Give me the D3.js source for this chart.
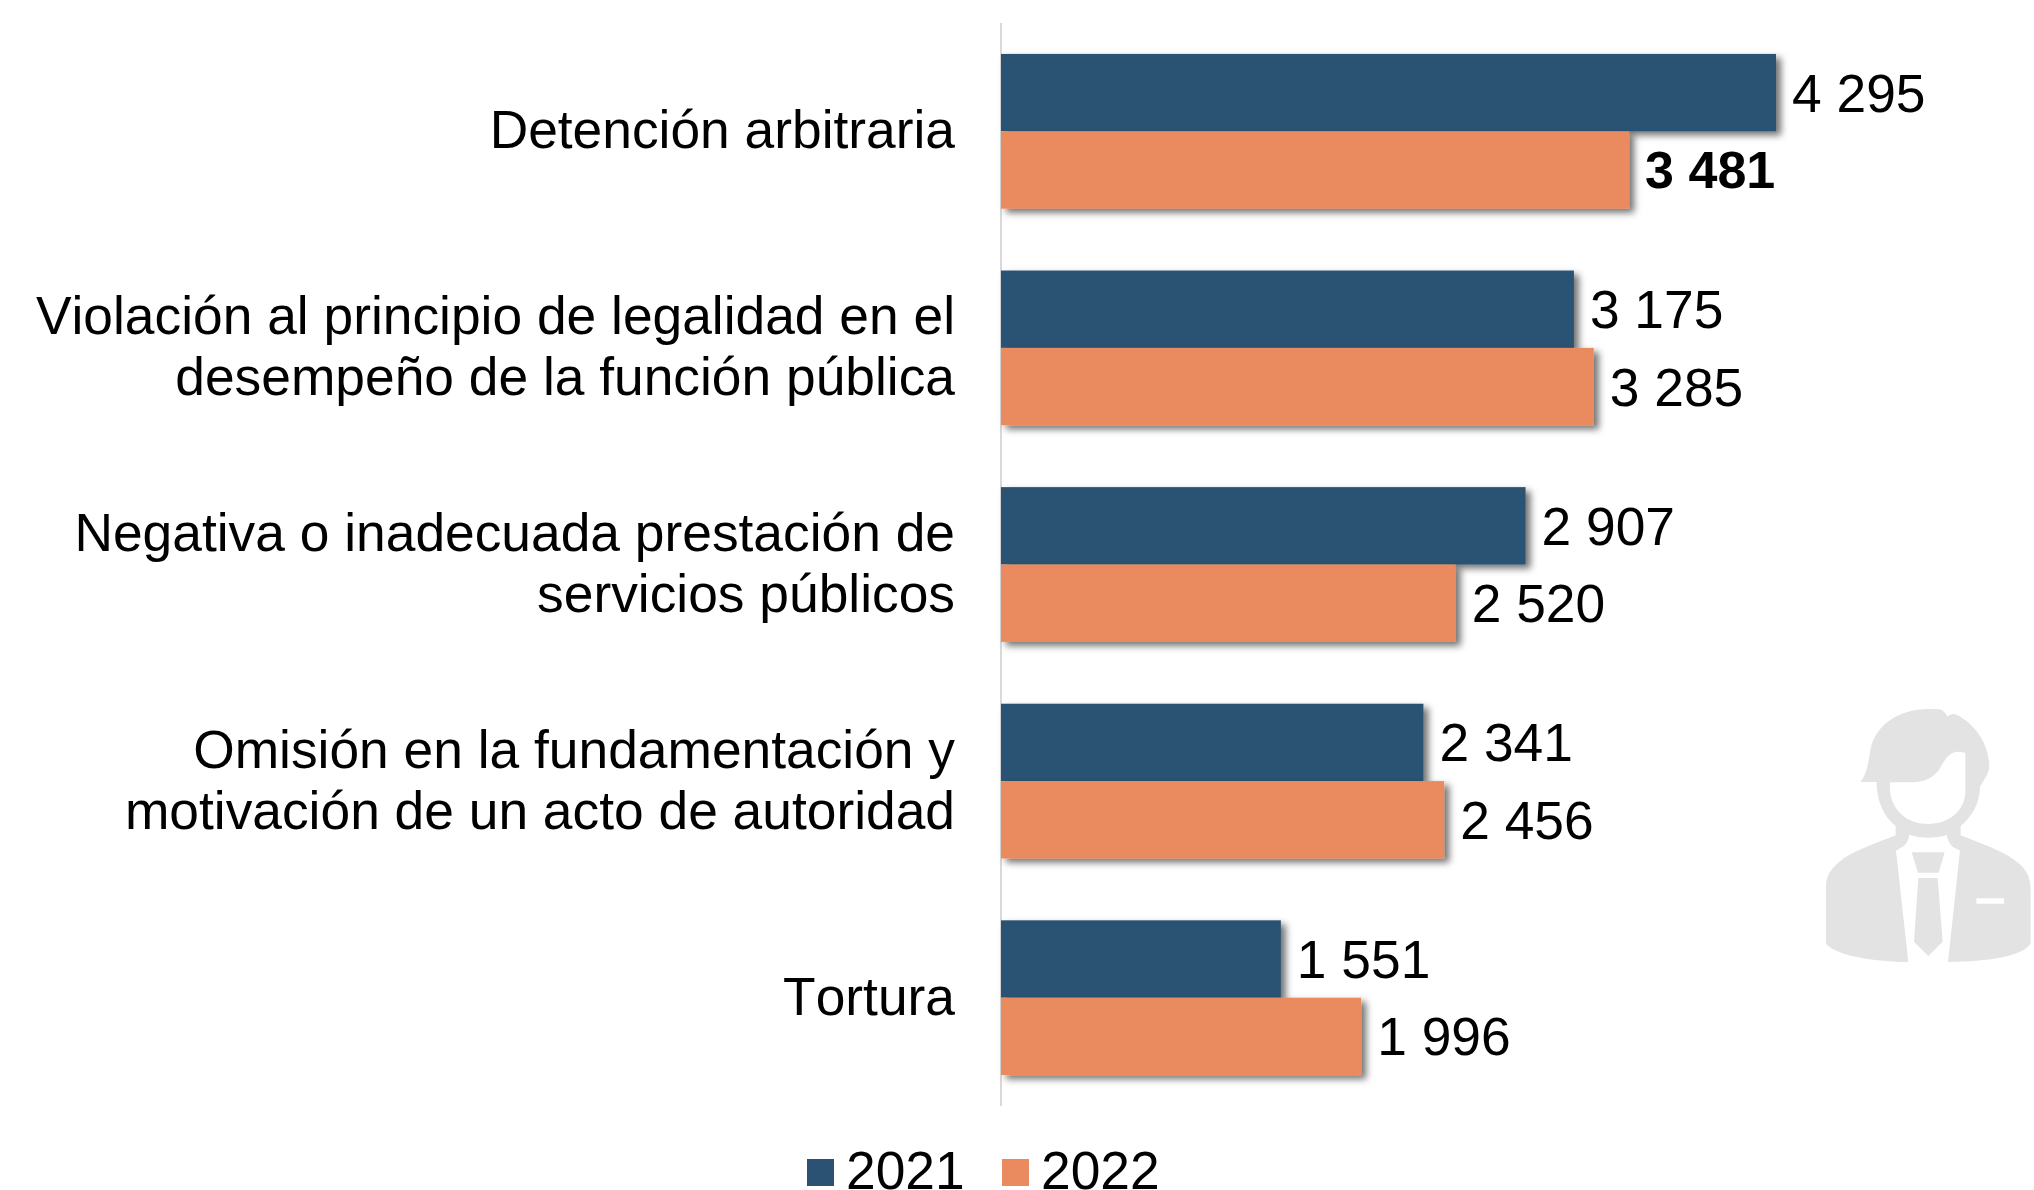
<!DOCTYPE html>
<html lang="es">
<head>
<meta charset="utf-8">
<title>Hechos violatorios 2021-2022</title>
<script src="https://cdn.jsdelivr.net/npm/d3@7"></script>
<style>
  html, body { margin: 0; padding: 0; background: #fff; }
  svg { display: block; }
  text { font-family: "Liberation Sans", Arial, sans-serif; fill: #000; }
</style>
</head>
<body>
<svg id="chart" width="2034" height="1190"></svg>
<script>
'use strict';

/* ── data ────────────────────────────────── */
const categories = [
  ['Detención arbitraria'],
  ['Violación al principio de legalidad en el', 'desempeño de la función pública'],
  ['Negativa o inadecuada prestación de', 'servicios públicos'],
  ['Omisión en la fundamentación y', 'motivación de un acto de autoridad'],
  ['Tortura'],
];
const years = ['2021', '2022'];
const values2021 = [4295, 3175, 2907, 2341, 1551];
const values2022 = [3481, 3285, 2520, 2456, 1996];
const boldLabels = [[], [], [], [], []];
boldLabels[0] = ['2022'];

/* ── palette ─────────────────────────────── */
const colors = { '2021': '#2b5273', '2022': '#ea8b5f' };

const svg = d3.select('#chart');
const fontSize = 53.33;
const fmt = v => d3.format(',')(v).replace(',', ' ');

/* ── scales ──────────────────────────────── */
const x0 = 1001;
const x = d3.scaleLinear().domain([0, 4295]).range([x0, 1776]);
const y = d3.scaleBand().domain(d3.range(categories.length)).range([23, 1106]).paddingInner(0.2855).paddingOuter(0.1428);
const ySub = d3.scaleBand().domain(years).range([0, y.bandwidth()]);

/* ── shadow ──────────────────────────────── */
const flt = svg.append('defs').append('filter').attr('id', 'bar-shadow')
  .attr('x', '-5%').attr('y', '-20%').attr('width', '110%').attr('height', '140%');
flt.append('feDropShadow').attr('dx', 5).attr('dy', 4).attr('stdDeviation', 3.5)
  .attr('flood-color', '#000').attr('flood-opacity', 0.55);

/* ── icon (background decoration) ────────── */
svg.append('g').attr('transform', 'translate(1780,680) scale(0.3333)')
  .append('path')
  .attr('fill', '#e3e3e3')
  .attr('fill-rule', 'evenodd')
  .attr('d', `M242 306 C262 280 266 240 272 205 C290 130 360 88 445 87 L478 88 C490 90 496 100 503 110
    C510 104 518 100 526 103 C585 130 625 190 628 255 C628 280 612 300 600 320 C600 370 575 410 542 438
    L542 466 C600 490 680 515 722 555 C745 578 752 600 752 630 L752 790 C730 830 620 845 504 846
    L540 512 L518 500 C508 490 502 478 500 465 C470 476 420 476 388 464 C386 480 378 495 365 502
    L348 512 L385 846 C290 845 175 830 138 792 L138 620 C138 590 150 570 175 548 C220 510 290 490 347 466
    L347 438 C312 410 290 365 290 306 Z
    M330 307 L395 307 C430 307 462 296 482 262 C494 238 510 214 535 215 L556 218 L556 340
    C552 395 505 432 445 432 C385 432 335 395 330 330 Z
    M589 655 L672 655 L672 671 L589 671 Z`);
svg.append('path')
  .attr('transform', 'translate(1780,680) scale(0.3333)')
  .attr('fill', '#e3e3e3')
  .attr('d', 'M395 517 L494 517 L476 578 L414 578 Z M415 594 L473 594 L488 785 L445 828 L402 785 Z');

/* ── axis line ───────────────────────────── */
svg.append('line')
  .attr('x1', x0).attr('x2', x0)
  .attr('y1', y.range()[0]).attr('y2', y.range()[1])
  .attr('stroke', '#d9d9d9').attr('stroke-width', 2);

/* ── bars ────────────────────────────────── */
const series = years.map((yr, i) => ({ yr, vals: i === 0 ? values2021 : values2022 }));

series.forEach(s => {
  svg.append('g').selectAll('rect').data(s.vals).join('rect')
    .attr('x', x0)
    .attr('y', (d, i) => y(i) + ySub(s.yr))
    .attr('width', d => x(d) - x0)
    .attr('height', ySub.bandwidth())
    .attr('fill', colors[s.yr])
    .attr('filter', 'url(#bar-shadow)');
});

/* ── value labels ────────────────────────── */
series.forEach(s => {
  svg.append('g').selectAll('text').data(s.vals).join('text')
    .attr('x', d => x(d) + 16)
    .attr('y', (d, i) => y(i) + ySub(s.yr) + ySub.bandwidth() / 2)
    .attr('dy', '0.355em')
    .attr('font-size', (d, i) => boldLabels[i].includes(s.yr) ? 52 : fontSize)
    .attr('font-weight', (d, i) => boldLabels[i].includes(s.yr) ? 700 : 400)
    .text(fmt);
});

/* ── category labels ─────────────────────── */
const lineH = 61;
svg.append('g').selectAll('text').data(categories).join('text')
  .attr('text-anchor', 'end')
  .attr('font-size', fontSize)
  .style('font-kerning', 'none')
  .each(function (lines, i) {
    const cy = y(i) + y.bandwidth() / 2 - 2;
    d3.select(this).selectAll('tspan').data(lines).join('tspan')
      .attr('x', 955)
      .attr('y', (l, j) => cy + (j - (lines.length - 1) / 2) * lineH)
      .attr('dy', '0.355em')
      .text(l => l);
  });

/* ── legend ──────────────────────────────── */
const legendX = d3.scaleOrdinal().domain(years).range([807, 1002]);
const legend = svg.append('g').selectAll('g').data(years).join('g')
  .attr('transform', d => `translate(${legendX(d)},1159)`);
legend.append('rect').attr('width', 27).attr('height', 27)
  .attr('fill', d => colors[d]);
legend.append('text').attr('x', 39).attr('y', 30)
  .attr('font-size', fontSize)
  .text(d => d);
</script>
</body>
</html>
